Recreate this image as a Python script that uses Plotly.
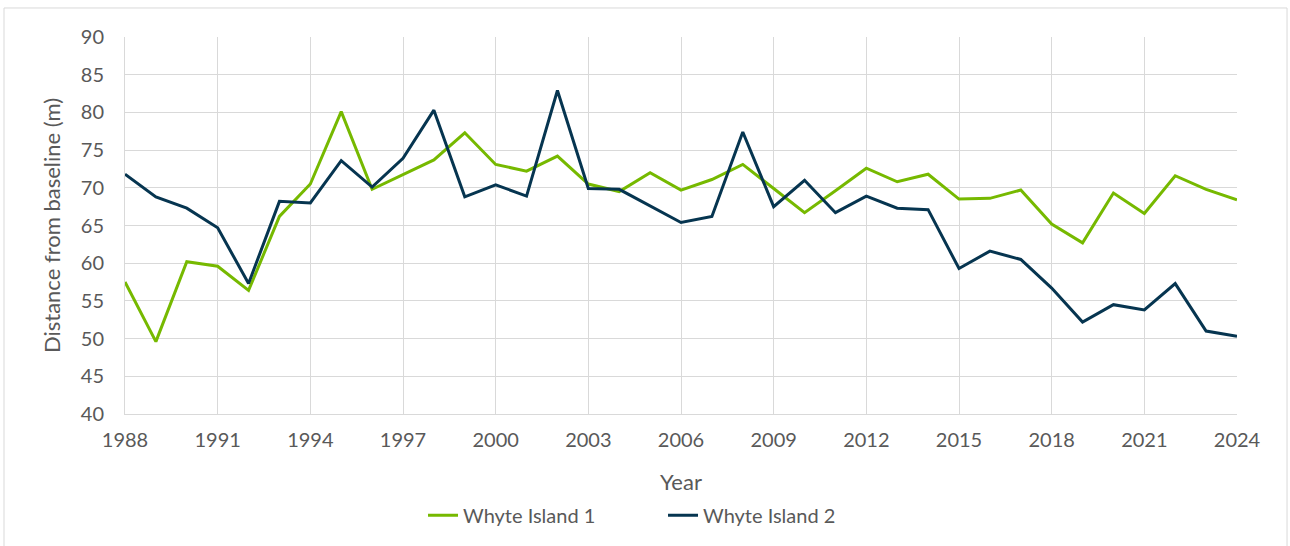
import plotly.graph_objects as go

years = list(range(1988, 2025))
whyte1 = [57.5, 49.6, 60.2, 59.6, 56.4, 66.2, 70.5, 80.1, 69.8, 71.7, 73.7, 77.3, 73.1, 72.2,
          74.2, 70.5, 69.5, 72.0, 69.7, 71.1, 73.1, 69.9, 66.7, 69.6, 72.6, 70.8, 71.8, 68.5,
          68.6, 69.7, 65.2, 62.7, 69.3, 66.6, 71.6, 69.8, 68.4]
whyte2 = [71.8, 68.8, 67.3, 64.7, 57.3, 68.2, 68.0, 73.6, 70.1, 73.9, 80.3, 68.8, 70.4, 68.9,
          82.9, 69.9, 69.8, 67.6, 65.4, 66.2, 77.4, 67.5, 71.0, 66.7, 68.9, 67.3, 67.1, 59.3,
          61.6, 60.5, 56.7, 52.2, 54.5, 53.8, 57.3, 51.0, 50.3]
x_ticks = list(range(1988, 2025, 3))
y_ticks = list(range(40, 91, 5))

font_family = "Lato, Carlito, Calibri, sans-serif"
txt = "#595959"

fig = go.Figure()
fig.add_trace(go.Scatter(x=years, y=whyte1, mode="lines", name="Whyte Island 1",
                         line=dict(color="#76B900", width=3)))
fig.add_trace(go.Scatter(x=years, y=whyte2, mode="lines", name="Whyte Island 2",
                         line=dict(color="#063550", width=3)))

fig.update_layout(
    width=1290, height=546,
    margin=dict(l=125, r=53, t=37, b=132, autoexpand=False),
    paper_bgcolor="white", plot_bgcolor="white",
    font=dict(family=font_family, color=txt, size=20),
    showlegend=True,
    legend=dict(orientation="h", x=0.268, xanchor="left", y=-0.217, yanchor="top",
                font=dict(size=20, color=txt), entrywidth=195, entrywidthmode="pixels",
                tracegroupgap=0),
    xaxis=dict(range=[1988, 2024], tickmode="array", tickvals=x_ticks,
               showgrid=True, gridcolor="#D9D9D9", gridwidth=1,
               showline=True, linecolor="#D9D9D9", linewidth=1, mirror=False,
               zeroline=False, ticks="", ticklen=0, ticklabelstandoff=8, automargin=False,
               title=dict(text="Year", font=dict(size=22, color=txt), standoff=24),
               tickfont=dict(size=20, color=txt)),
    yaxis=dict(range=[40, 90], tickmode="array", tickvals=y_ticks,
               showgrid=True, gridcolor="#D9D9D9", gridwidth=1,
               showline=True, linecolor="#D9D9D9", linewidth=1,
               zeroline=False, ticks="", ticklen=0, ticklabelstandoff=16, automargin=False,
               title=dict(text="Distance from baseline (m)", font=dict(size=22, color=txt), standoff=14),
               tickfont=dict(size=20, color=txt)),
    shapes=[dict(type="rect", xref="paper", yref="paper",
                 x0=-0.1088, x1=1.045, y0=-0.37, y1=1.077,
                 line=dict(color="#D9D9D9", width=1), fillcolor="rgba(0,0,0,0)", layer="below")],
)

fig.write_html("out.html")
